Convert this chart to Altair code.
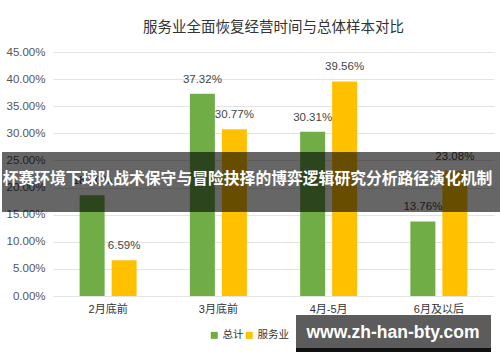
import altair as alt
import pandas as pd

categories = ["2月底前", "3月底前", "4月-5月", "6月及以后"]
series_names = ["总计", "服务业"]
total_vals = [0.1860, 0.3732, 0.3031, 0.1376]
service_vals = [0.0659, 0.3077, 0.3956, 0.2308]
y_ticks = [0.0, 0.05, 0.10, 0.15, 0.20, 0.25, 0.30, 0.35, 0.40, 0.45]
colors = ["#70AD47", "#FFC000"]
title_text = "服务业全面恢复经营时间与总体样本对比"
banner_text = "杯赛环境下球队战术保守与冒险抉择的博弈逻辑研究分析路径演化机制"
watermark_text = "www.zh-han-bty.com"

rows = []
for c, t, s in zip(categories, total_vals, service_vals):
    rows.append({"cat": c, "series": series_names[0], "value": t})
    rows.append({"cat": c, "series": series_names[1], "value": s})
df = pd.DataFrame(rows)

FONT = "Liberation Sans, Noto Sans CJK SC, sans-serif"
CJK = "Noto Sans CJK SC, sans-serif"

x_enc = alt.X(
    "cat:N", sort=categories,
    scale=alt.Scale(paddingInner=0.483, paddingOuter=0.2415),
    axis=alt.Axis(title=None, labelAngle=0, ticks=False, domain=False,
                  labelPadding=7, labelFontSize=11, labelColor="#333", labelFont=FONT),
)
xo_enc = alt.XOffset("series:N", sort=series_names,
                     scale=alt.Scale(paddingInner=0.21875, paddingOuter=0))
y_enc = alt.Y(
    "value:Q", scale=alt.Scale(domain=[0, 0.45], nice=False),
    axis=alt.Axis(values=y_ticks, format=".2%", title=None, ticks=False, domain=False,
                  labelPadding=8, labelFontSize=11.5, labelColor="#555", labelFont=FONT,
                  gridColor="#e3e3e3"),
)
color_enc = alt.Color(
    "series:N", sort=series_names,
    scale=alt.Scale(domain=series_names, range=colors),
    legend=alt.Legend(title=None, orient="none", legendX=156, legendY=278,
                      direction="horizontal", symbolType="square", symbolSize=49,
                      symbolStrokeWidth=0, labelFontSize=10.5, labelColor="#333",
                      labelFont=CJK, columnPadding=0, labelOffset=3),
)

base = alt.Chart(df)
bars = base.mark_bar().encode(x=x_enc, xOffset=xo_enc, y=y_enc, color=color_enc)
labels = base.mark_text(dy=-14, fontSize=11.5, color="#444", font=FONT).encode(
    x=x_enc, xOffset=xo_enc, y=y_enc, text=alt.Text("value:Q", format=".2%")
)

banner_df = pd.DataFrame({"t": [banner_text]})
banner_rect = alt.Chart(banner_df).mark_rect(color="#000000", opacity=0.6).encode(
    x=alt.value(-51), x2=alt.value(447), y=alt.value(100), y2=alt.value(160)
)
banner_label = alt.Chart(banner_df).mark_text(
    color="white", fontSize=15.8, fontWeight="bold", font=CJK, baseline="middle", align="center"
).encode(x=alt.value(194.5), y=alt.value(127), text="t:N")

wm_df = pd.DataFrame({"t": [watermark_text]})
wm_rect = alt.Chart(wm_df).mark_rect(color="#5c5c5c").encode(
    x=alt.value(243), x2=alt.value(438), y=alt.value(263), y2=alt.value(296)
)
wm_bar = alt.Chart(wm_df).mark_rect(color="#111111").encode(
    x=alt.value(243), x2=alt.value(438), y=alt.value(296), y2=alt.value(300)
)
wm_label = alt.Chart(wm_df).mark_text(
    color="white", fontSize=17.5, fontWeight="bold", font="Liberation Sans, sans-serif",
    baseline="middle", align="center"
).encode(x=alt.value(340), y=alt.value(281), text="t:N")

chart = alt.layer(
    bars, labels, banner_rect, banner_label, wm_rect, wm_bar, wm_label
).properties(
    width=441, height=244,
    title=alt.TitleParams(title_text, fontSize=14.5, fontWeight="normal", color="#333",
                          font=CJK, anchor="middle", offset=11),
    autosize=alt.AutoSizeParams(type="none"),
    padding={"left": 53, "top": 52, "right": 6, "bottom": 66},
    background="white",
).configure_view(stroke=None)

chart.save("out.html", embed_options={"renderer": "svg", "actions": False})
